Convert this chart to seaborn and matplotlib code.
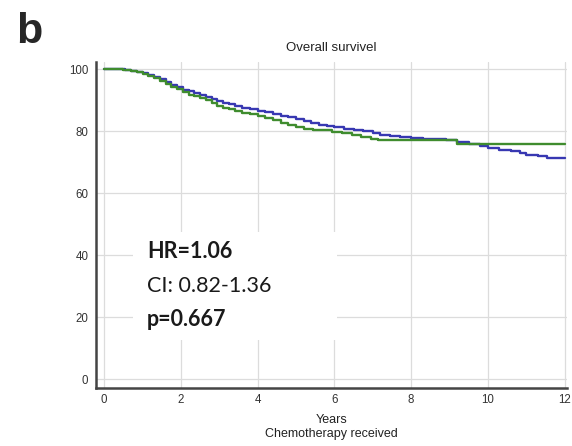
import matplotlib
matplotlib.use("Agg")
import matplotlib.pyplot as plt
from matplotlib.patches import Rectangle
from matplotlib.ticker import MultipleLocator
import pandas as pd
import seaborn as sns

# Kaplan-Meier step curves (survival %, by years)
blue_years = [0, 0.55, 0.7, 0.85, 1.0, 1.15, 1.3, 1.45, 1.6, 1.75, 1.9, 2.05,
              2.2, 2.35, 2.5, 2.65, 2.8, 2.95, 3.1, 3.25, 3.4, 3.6, 3.8, 4.0,
              4.2, 4.4, 4.6, 4.8, 5.0, 5.2, 5.4, 5.6, 5.8, 6.0, 6.25, 6.5,
              6.75, 7.0, 7.2, 7.45, 7.7, 8.0, 8.3, 8.6, 8.9, 9.2, 9.5, 9.8,
              10.0, 10.3, 10.6, 10.85, 11.0, 11.3, 11.55, 12.0]
blue_surv = [100, 99.8, 99.5, 99.1, 98.6, 98.0, 97.4, 96.7, 95.9, 95.0, 94.2,
             93.4, 92.8, 92.2, 91.7, 91.1, 90.4, 89.7, 89.0, 88.6, 88.1, 87.6,
             87.1, 86.6, 86.1, 85.6, 85.0, 84.4, 83.9, 83.4, 82.7, 82.0, 81.6,
             81.2, 80.8, 80.3, 79.9, 79.4, 78.8, 78.3, 78.0, 77.7, 77.5, 77.3,
             77.0, 76.6, 76.0, 75.3, 74.5, 74.0, 73.5, 73.0, 72.3, 71.9, 71.3,
             71.3]

green_years = [0, 0.5, 0.7, 0.85, 1.0, 1.15, 1.3, 1.45, 1.6, 1.75, 1.9, 2.05,
               2.2, 2.35, 2.5, 2.65, 2.8, 2.95, 3.1, 3.25, 3.4, 3.6, 3.8, 4.0,
               4.2, 4.4, 4.6, 4.8, 5.0, 5.2, 5.45, 5.7, 5.95, 6.2, 6.45, 6.7,
               6.95, 7.15, 9.2, 12.0]
green_surv = [100, 99.8, 99.4, 99.0, 98.5, 97.8, 97.1, 96.2, 95.2, 94.3, 93.5,
              92.6, 91.8, 91.2, 90.6, 89.9, 89.0, 88.1, 87.5, 87.0, 86.4, 85.9,
              85.4, 85.0, 84.2, 83.5, 82.7, 82.0, 81.2, 80.8, 80.5, 80.2, 79.8,
              79.3, 78.8, 78.2, 77.6, 77.2, 76.0, 76.0]

x_ticks = [0, 2, 4, 6, 8, 10, 12]
y_ticks = [0, 20, 40, 60, 80, 100]

title = "Overall survivel"
x_label = "Years\nChemotherapy received"
stats_lines = [("HR=1.06", "bold"), ("CI: 0.82-1.36", "normal"), ("p=0.667", "bold")]

sns.set_style("white")
plt.rcParams["font.family"] = ["Liberation Sans", "DejaVu Sans"]

fig = plt.figure(figsize=(5.72, 4.46), dpi=100)
ax = fig.add_axes([0.168, 0.130, 0.823, 0.731])

blue_df = pd.DataFrame({"years": blue_years, "surv": blue_surv})
green_df = pd.DataFrame({"years": green_years, "surv": green_surv})
sns.lineplot(data=blue_df, x="years", y="surv", drawstyle="steps-post",
             color="#3838b2", linewidth=1.7, ax=ax, zorder=4)
sns.lineplot(data=green_df, x="years", y="surv", drawstyle="steps-post",
             color="#3f8c2e", linewidth=1.7, ax=ax, zorder=5)

ax.set_xlim(-0.21, 12.06)
ax.set_ylim(-2.9, 102.3)
ax.set_xticks(x_ticks)
ax.set_yticks(y_ticks)
ax.xaxis.set_minor_locator(MultipleLocator(1))
ax.yaxis.set_minor_locator(MultipleLocator(10))

ax.grid(True, which="major", color="#dcdcdc", linewidth=0.9, zorder=0)
ax.set_axisbelow(True)

for side in ("top", "right"):
    ax.spines[side].set_visible(False)
for side in ("left", "bottom"):
    ax.spines[side].set_color("#444444")
    ax.spines[side].set_linewidth(1.8)

ax.tick_params(axis="y", which="major", direction="out", length=4, width=1,
               color="#444444", labelsize=8.3, labelcolor="#333333", pad=1.5)
ax.tick_params(axis="y", which="minor", direction="in", length=3, width=1,
               color="#444444")
ax.tick_params(axis="x", which="major", direction="in", length=4, width=1.2,
               color="#444444", labelsize=8.3, labelcolor="#333333", pad=4)
ax.tick_params(axis="x", which="minor", direction="in", length=2.5, width=1,
               color="#444444")

ax.set_xlabel(x_label, fontsize=9, color="#222222", labelpad=6, linespacing=1.25)
ax.set_ylabel("")
ax.set_title(title, fontsize=9.5, color="#222222", pad=8)

# white panel behind the statistics
ax.add_patch(Rectangle((0.76, 12.6), 5.31, 34.7, facecolor="white",
                       edgecolor="none", zorder=1))
y_pos = [41.2, 30.1, 19.1]
for (txt, weight), yy in zip(stats_lines, y_pos):
    ax.text(1.12, yy, txt, fontsize=15.5, fontweight=weight, color="#1a1a1a",
            va="center", ha="left", family=["Lato", "DejaVu Sans"], zorder=6)

fig.text(0.028, 0.972, "b", fontsize=31, fontweight="bold", va="top", ha="left",
         family=["Liberation Sans", "DejaVu Sans"])

fig.savefig("out.png", dpi=100)
